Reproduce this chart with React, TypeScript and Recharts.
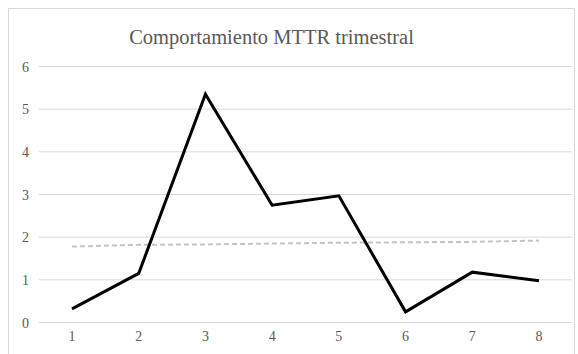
import React from 'react';
import { LineChart, Line, XAxis, YAxis, CartesianGrid } from 'recharts';

const quarters = ['1', '2', '3', '4', '5', '6', '7', '8'];
const mttr = [0.32, 1.15, 5.35, 2.75, 2.97, 0.25, 1.18, 0.98];
const trend = [1.78, 1.82, 1.83, 1.85, 1.87, 1.88, 1.89, 1.92];
const yTicks = [0, 1, 2, 3, 4, 5, 6];

const data = quarters.map((q, i) => ({ q, mttr: mttr[i], trend: trend[i] }));

const serif = "'Liberation Serif', 'DejaVu Serif', serif";

const XTick = (props: any) => {
  const { x, y, payload } = props;
  return (
    <text x={x} y={y + 18} textAnchor="middle" fill="#595959" style={{ fontSize: 14, fontFamily: serif }}>
      {payload.value}
    </text>
  );
};

const YTick = (props: any) => {
  const { x, y, payload } = props;
  return (
    <text x={x - 10} y={y + 5} textAnchor="end" fill="#595959" style={{ fontSize: 14, fontFamily: serif }}>
      {payload.value}
    </text>
  );
};

export default function App() {
  return (
    <div style={{ position: 'absolute', left: 0, top: 0, width: 578, height: 354, background: '#fff', overflow: 'hidden' }}>
      {/* chart frame */}
      <div style={{ position: 'absolute', left: 8, top: 8, width: 567, height: 360, border: '1px solid #d9d9d9', boxSizing: 'border-box' }} />
      <div
        style={{
          position: 'absolute',
          left: 0,
          width: 543,
          top: 26,
          textAlign: 'center',
          fontFamily: serif,
          fontSize: 20.5,
          color: '#595959',
        }}
      >
        Comportamiento MTTR trimestral
      </div>
      <div style={{ position: 'absolute', left: 0, top: 0 }}>
        <LineChart width={578} height={354} data={data} margin={{ top: 66.5, right: 6, bottom: 0, left: 0 }}>
          <CartesianGrid vertical={false} stroke="#d9d9d9" strokeWidth={1} />
          <XAxis
            dataKey="q"
            axisLine={false}
            tickLine={false}
            tickSize={0}
            tickMargin={0}
            height={31.5}
            padding={{ left: 33, right: 33 }}
            tick={<XTick />}
            interval={0}
          />
          <YAxis
            domain={[0, 6]}
            ticks={yTicks}
            axisLine={false}
            tickLine={false}
            tickSize={0}
            tickMargin={0}
            width={39}
            tick={<YTick />}
          />
          <Line
            type="linear"
            dataKey="trend"
            stroke="#c4c4c4"
            strokeWidth={2}
            strokeDasharray="5 3"
            dot={false}
            isAnimationActive={false}
          />
          <Line
            type="linear"
            dataKey="mttr"
            stroke="#000"
            strokeWidth={3}
            dot={false}
            isAnimationActive={false}
          />
        </LineChart>
      </div>
    </div>
  );
}
